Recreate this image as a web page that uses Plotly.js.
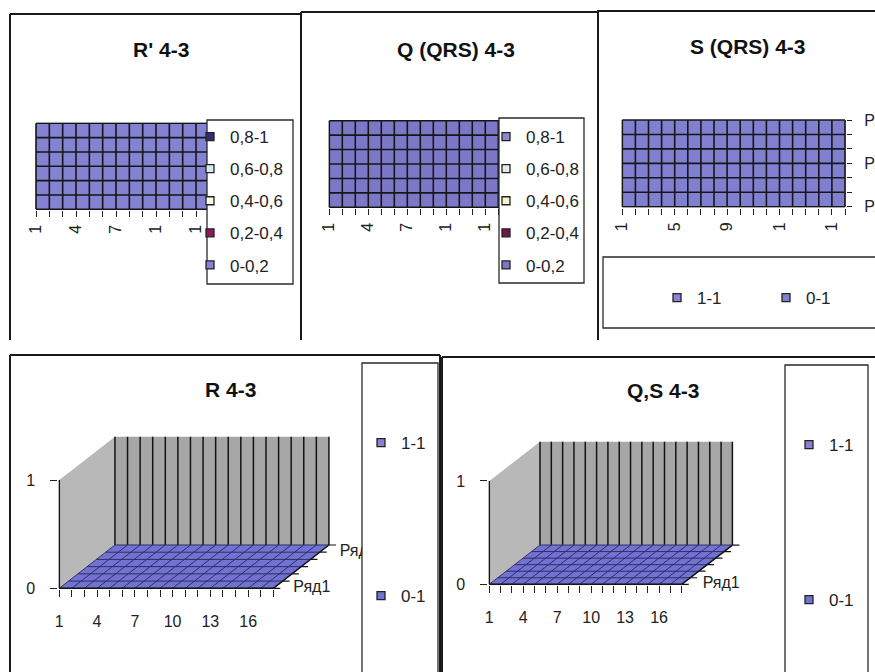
<!DOCTYPE html>
<html>
<head>
<meta charset="utf-8">
<script src="https://cdn.plot.ly/plotly-3.0.1.min.js"></script>
<style>html,body{margin:0;padding:0;background:#fff;overflow:hidden;width:875px;height:672px;}#chart{width:875px;height:672px;overflow:hidden;}</style>
</head>
<body>
<div id="chart"></div>
<script>
// ---------------- DATA ----------------
const categories = [1,2,3,4,5,6,7,8,9,10,11,12,13,14,15,16,17,18];
const seriesNames = ["Ряд1","Ряд2","Ряд3","Ряд4","Ряд5","Ряд6","Ряд7"];
const seriesPos = [1,2,3,4,5,6,7];

// surface values: rows = series (Ряд1..Ряд7), columns = categories 1..18
const rPrime43 = [
  [0,0,0,0,0,0,0,0,0,0,0,0,0,0,0,0,0,0],
  [0,0,0,0,0,0,0,0,0,0,0,0,0,0,0,0,0,0],
  [0,0,0,0,0,0,0,0,0,0,0,0,0,0,0,0,0,0],
  [0,0,0,0,0,0,0,0,0,0,0,0,0,0,0,0,0,0],
  [0,0,0,0,0,0,0,0,0,0,0,0,0,0,0,0,0,0],
  [0,0,0,0,0,0,0,0,0,0,0,0,0,0,0,0,0,0],
  [0,0,0,0,0,0,0,0,0,0,0,0,0,0,0,0,0,0]
];
const qQRS43 = [
  [0,0,0,0,0,0,0,0,0,0,0,0,0,0,0,0,0,0],
  [0,0,0,0,0,0,0,0,0,0,0,0,0,0,0,0,0,0],
  [0,0,0,0,0,0,0,0,0,0,0,0,0,0,0,0,0,0],
  [0,0,0,0,0,0,0,0,0,0,0,0,0,0,0,0,0,0],
  [0,0,0,0,0,0,0,0,0,0,0,0,0,0,0,0,0,0],
  [0,0,0,0,0,0,0,0,0,0,0,0,0,0,0,0,0,0],
  [0,0,0,0,0,0,0,0,0,0,0,0,0,0,0,0,0,0]
];
const sQRS43 = [
  [0,0,0,0,0,0,0,0,0,0,0,0,0,0,0,0,0,0],
  [0,0,0,0,0,0,0,0,0,0,0,0,0,0,0,0,0,0],
  [0,0,0,0,0,0,0,0,0,0,0,0,0,0,0,0,0,0],
  [0,0,0,0,0,0,0,0,0,0,0,0,0,0,0,0,0,0],
  [0,0,0,0,0,0,0,0,0,0,0,0,0,0,0,0,0,0],
  [0,0,0,0,0,0,0,0,0,0,0,0,0,0,0,0,0,0],
  [0,0,0,0,0,0,0,0,0,0,0,0,0,0,0,0,0,0]
];
const r43 = [
  [0,0,0,0,0,0,0,0,0,0,0,0,0,0,0,0,0,0],
  [0,0,0,0,0,0,0,0,0,0,0,0,0,0,0,0,0,0],
  [0,0,0,0,0,0,0,0,0,0,0,0,0,0,0,0,0,0],
  [0,0,0,0,0,0,0,0,0,0,0,0,0,0,0,0,0,0],
  [0,0,0,0,0,0,0,0,0,0,0,0,0,0,0,0,0,0],
  [0,0,0,0,0,0,0,0,0,0,0,0,0,0,0,0,0,0],
  [0,0,0,0,0,0,0,0,0,0,0,0,0,0,0,0,0,0]
];
const qs43 = [
  [0,0,0,0,0,0,0,0,0,0,0,0,0,0,0,0,0,0],
  [0,0,0,0,0,0,0,0,0,0,0,0,0,0,0,0,0,0],
  [0,0,0,0,0,0,0,0,0,0,0,0,0,0,0,0,0,0],
  [0,0,0,0,0,0,0,0,0,0,0,0,0,0,0,0,0,0],
  [0,0,0,0,0,0,0,0,0,0,0,0,0,0,0,0,0,0],
  [0,0,0,0,0,0,0,0,0,0,0,0,0,0,0,0,0,0],
  [0,0,0,0,0,0,0,0,0,0,0,0,0,0,0,0,0,0]
];

// value bands (legend entries)
const bands5Labels = ["0-0,2","0,2-0,4","0,4-0,6","0,6-0,8","0,8-1"];
const bands5Lows = [0,0.2,0.4,0.6,0.8];
const bands2Labels = ["0-1","1-1"];
const bands2Lows = [0,1];
const zAxisTicks = [0,1];

// tick labels as they appear in the picture
const topTickTextStep3 = ["1","","","4","","","7","","","1","","","1","","","1","",""];
const topTickTextStep4 = ["1","","","","5","","","","9","","","","1","","","","1",""];
const bottomTickText = ["1","","","4","","","7","","","10","","","13","","","16","",""];
const hiddenSeriesText = ["","","","","","",""];
const sSeriesText = ["Ряд1","","","Ряд4","","","Ряд7"];
const rSeriesText = ["Ряд1","","","","","Ряд6",""];
const qsSeriesText = ["Ряд1","","","","","",""];

const titles = ["R' 4-3","Q (QRS) 4-3","S (QRS) 4-3","R 4-3","Q,S 4-3"];

// ---------------- STYLE ----------------
const FONT = "Liberation Sans, Arial, sans-serif";
const rPrimeColors = ["#8482d2","#8c1c5c","#fbfbe4","#d4ecec","#3a2a74"];
const qColors = ["#7c78c8","#6e1a46","#f4f4d0","#e0eee8","#8e88cf"];
const sColors = ["#8180d0","#8884d2"];
const rColors = ["#7272d2","#8a80cf"];
const qsColors = ["#7272d2","#8a80d0"];
const backWall = "#a6a6a6", sideWall = "#b8b8b8";

const W = 875, H = 672;
const fx = p => p / W;
const fy = p => 1 - p / H;

const traces = [];
const layout = {
  width: W, height: H, margin: {l:0,r:0,t:0,b:0},
  paper_bgcolor: "#ffffff", plot_bgcolor: "rgba(0,0,0,0)",
  font: {family: FONT, color: "#1e1e1e"},
  showlegend: true, hovermode: false,
  shapes: [], annotations: []
};

function bandOf(v, lows) { let k = 0; lows.forEach((l, i) => { if (v >= l) k = i; }); return k; }
function cellBands(vals, lows) {
  const out = [];
  for (let j = 0; j < vals.length - 1; j++) {
    const row = [];
    for (let i = 0; i < vals[j].length - 1; i++) {
      const m = (vals[j][i] + vals[j][i+1] + vals[j+1][i] + vals[j+1][i+1]) / 4;
      row.push(bandOf(m, lows));
    }
    out.push(row);
  }
  return out;
}
function discreteScale(colors) {
  const n = colors.length, s = [];
  colors.forEach((c, k) => { s.push([k / n, c]); s.push([(k + 1) / n, c]); });
  return s;
}
const axKey = (letter, n) => letter + "axis" + (n === 1 ? "" : n);
const axRef = (letter, n) => letter + (n === 1 ? "" : n);

function legendCfg(xpx, ypx, gap, size) {
  return {x: fx(xpx), y: fy(ypx), xanchor: "left", yanchor: "top",
    bgcolor: "rgba(0,0,0,0)", borderwidth: 0, orientation: "v",
    font: {family: FONT, size: size, color: "#222"}, tracegroupgap: gap, itemwidth: 30,
    indentation: -15};
}
function addLegendEntries(o, xa, ya) {
  o.legendOrder.forEach((k, idx) => {
    const lid = o.legendIds[idx];
    traces.push({type: "scatter", mode: "markers", x: [null], y: [null], name: o.labels[k],
      marker: {symbol: "square", size: 8, color: o.colors[k], line: {color: "#222", width: 1.3}},
      legend: lid, legendgroup: lid + "_" + k, xaxis: xa, yaxis: ya});
  });
  Object.keys(o.legends).forEach(id => { layout[id] = o.legends[id]; });
}

// ---------------- TOP (contour / top view) CHARTS ----------------
function addTopChart(o) {
  const xa = axRef("x", o.n), ya = axRef("y", o.n);
  const nC = categories.length, nS = seriesPos.length;
  traces.push({type: "heatmap", x: categories, y: seriesPos, z: cellBands(o.values, o.lows),
    colorscale: discreteScale(o.colors), zmin: -0.5, zmax: o.colors.length - 0.5,
    showscale: false, xaxis: xa, yaxis: ya, hoverinfo: "skip"});
  const gx = [], gy = [];
  categories.forEach(c => { gx.push(c, c, null); gy.push(seriesPos[0], seriesPos[nS-1], null); });
  seriesPos.forEach(s => { gx.push(categories[0], categories[nC-1], null); gy.push(s, s, null); });
  traces.push({type: "scatter", mode: "lines", x: gx, y: gy, line: {color: "#161616", width: 1.6},
    xaxis: xa, yaxis: ya, showlegend: false, hoverinfo: "skip"});
  addLegendEntries(o, xa, ya);
  const pad = 0.08;
  const ppc = (o.px18 - o.px1) / (nC - 1);
  const pps = (o.pyBottom - o.pyTop) / (nS - 1);
  layout[axKey("x", o.n)] = {
    domain: [fx(o.px1 - pad * ppc), fx(o.px18 + pad * ppc)],
    range: [categories[0] - pad, categories[nC-1] + pad], anchor: ya,
    tickmode: "array", tickvals: categories, ticktext: o.tickText, tickangle: -90,
    ticks: "outside", ticklen: 6, tickwidth: 1, tickcolor: "#222",
    tickfont: {size: 16, family: FONT, color: "#222"}, ticklabelstandoff: 1,
    showgrid: false, zeroline: false, showline: false, fixedrange: true
  };
  layout[axKey("y", o.n)] = {
    domain: [fy(o.pyBottom + pad * pps), fy(o.pyTop - pad * pps)],
    range: [seriesPos[0] - pad, seriesPos[nS-1] + pad], anchor: xa, side: "right",
    tickmode: "array", tickvals: seriesPos, ticktext: o.seriesText,
    ticks: "outside", ticklen: 5, tickwidth: 1, tickcolor: "#222",
    tickfont: {size: 16, family: FONT, color: "#222"}, ticklabelstandoff: 9,
    showgrid: false, zeroline: false, showline: false, fixedrange: true
  };
}

// ---------------- BOTTOM (3-D surface, oblique) CHARTS ----------------
function addBottomChart(o) {
  const xa = axRef("x", o.n), ya = axRef("y", o.n);
  const nC = categories.length, nS = seriesPos.length;
  const z0 = zAxisTicks[0], z1 = zAxisTicks[zAxisTicks.length - 1];
  const depth = j => (seriesPos[j] - seriesPos[0]) / (seriesPos[nS-1] - seriesPos[0]);
  const P = (i, j, v) => [categories[i] + depth(j) * o.dx, v + depth(j) * o.dy];
  const poly = (pts, fill) => ({type: "scatter", mode: "lines", fill: "toself", fillcolor: fill,
    x: pts.map(p => p[0]), y: pts.map(p => p[1]), line: {width: 0},
    xaxis: xa, yaxis: ya, showlegend: false, hoverinfo: "skip"});
  const lines = (segs, color, width) => {
    const x = [], y = [];
    segs.forEach(s => { s.forEach(p => { x.push(p[0]); y.push(p[1]); }); x.push(null); y.push(null); });
    return {type: "scatter", mode: "lines", x, y, line: {color, width},
      xaxis: xa, yaxis: ya, showlegend: false, hoverinfo: "skip"};
  };
  // walls
  traces.push(poly([P(0,nS-1,z0), P(nC-1,nS-1,z0), P(nC-1,nS-1,z1), P(0,nS-1,z1), P(0,nS-1,z0)], backWall));
  traces.push(poly([P(0,0,z0), P(0,nS-1,z0), P(0,nS-1,z1), P(0,0,z1), P(0,0,z0)], sideWall));
  // back wall category gridlines
  traces.push(lines(categories.map((c, i) => [P(i,nS-1,z0), P(i,nS-1,z1)]), "#141414", 1.5));
  // surface cells grouped by band
  const bands = cellBands(o.values, o.lows);
  o.colors.forEach((col, k) => {
    const x = [], y = [];
    for (let j = 0; j < nS - 1; j++) for (let i = 0; i < nC - 1; i++) {
      if (bands[j][i] !== k) continue;
      const v = o.values;
      [P(i,j,v[j][i]), P(i+1,j,v[j][i+1]), P(i+1,j+1,v[j+1][i+1]), P(i,j+1,v[j+1][i]), P(i,j,v[j][i])]
        .forEach(p => { x.push(p[0]); y.push(p[1]); });
      x.push(null); y.push(null);
    }
    if (x.length) traces.push({type: "scatter", mode: "lines", fill: "toself", fillcolor: col, x, y,
      line: {width: 0}, xaxis: xa, yaxis: ya, showlegend: false, hoverinfo: "skip"});
  });
  // surface mesh
  const mesh = [];
  seriesPos.forEach((s, j) => mesh.push(categories.map((c, i) => P(i, j, o.values[j][i]))));
  categories.forEach((c, i) => mesh.push(seriesPos.map((s, j) => P(i, j, o.values[j][i]))));
  traces.push(lines(mesh, "#2e2e66", 1));
  // front edge, right (series) edge, vertical axis edge
  traces.push(lines([categories.map((c, i) => P(i, 0, z0)), seriesPos.map((s, j) => P(nC-1, j, z0)),
    [P(0,0,z0), P(0,0,z1)]], "#141414", 1.5));
  // series axis ticks + labels
  const tl = 7 / o.ppc;
  traces.push(lines(seriesPos.map((s, j) => { const p = P(nC-1, j, z0); return [p, [p[0] + tl, p[1]]]; }), "#141414", 1.2));
  const off = o.labelOffsetPx / o.ppc;
  traces.push({type: "scatter", mode: "text", cliponaxis: false,
    x: seriesPos.map((s, j) => P(nC-1, j, z0)[0] + off), y: seriesPos.map((s, j) => P(nC-1, j, z0)[1]),
    text: o.seriesText, textposition: "middle right", textfont: {size: 16, family: FONT, color: "#222"},
    xaxis: xa, yaxis: ya, showlegend: false, hoverinfo: "skip"});
  addLegendEntries(o, xa, ya);
  const padx = 1 / o.ppc, padz = 1 / o.ppz;
  const labelRoom = (o.labelOffsetPx + 6) / o.ppc;
  const xLo = categories[0] - padx, xHi = categories[nC-1] + o.dx + labelRoom;
  const yLo = z0 - padz, yHi = z1 + o.dy + padz;
  layout[axKey("x", o.n)] = {
    domain: [fx(o.px1 - padx * o.ppc), fx(o.px1 + (xHi - categories[0]) * o.ppc)],
    range: [xLo, xHi], anchor: ya,
    tickmode: "array", tickvals: categories, ticktext: bottomTickText,
    ticks: "outside", ticklen: 7, tickwidth: 1, tickcolor: "#222",
    tickfont: {size: 16, family: FONT, color: "#222"}, ticklabelstandoff: 10,
    showgrid: false, zeroline: false, showline: false, fixedrange: true
  };
  layout[axKey("y", o.n)] = {
    domain: [fy(o.pyZ0 + padz * o.ppz), fy(o.pyZ0 - (yHi - z0) * o.ppz)],
    range: [yLo, yHi], anchor: xa,
    tickmode: "array", tickvals: zAxisTicks, ticktext: zAxisTicks.map(String),
    ticks: "outside", ticklen: 7, tickwidth: 1, tickcolor: "#222",
    tickfont: {size: 16, family: FONT, color: "#222"}, ticklabelstandoff: 12,
    showgrid: false, zeroline: false, showline: false, fixedrange: true
  };
}

addTopChart({n: 1, values: rPrime43, lows: bands5Lows, colors: rPrimeColors, labels: bands5Labels,
  legendOrder: [4,3,2,1,0], legendIds: ["legend","legend","legend","legend","legend"],
  legends: {legend: legendCfg(205, 119, 7, 17)},
  tickText: topTickTextStep3, seriesText: hiddenSeriesText,
  px1: 36, px18: 262.7, pyTop: 123.3, pyBottom: 209.3});
addTopChart({n: 2, values: qQRS43, lows: bands5Lows, colors: qColors, labels: bands5Labels,
  legendOrder: [4,3,2,1,0], legendIds: ["legend2","legend2","legend2","legend2","legend2"],
  legends: {legend2: legendCfg(501, 119, 7, 17)},
  tickText: topTickTextStep3, seriesText: hiddenSeriesText,
  px1: 329.3, px18: 550.3, pyTop: 120.7, pyBottom: 207.3});
addTopChart({n: 3, values: sQRS43, lows: bands2Lows, colors: sColors, labels: bands2Labels,
  legendOrder: [1,0], legendIds: ["legend3","legend6"],
  legends: {legend3: legendCfg(672, 280, 0, 17), legend6: legendCfg(781, 280, 0, 17)},
  tickText: topTickTextStep4, seriesText: sSeriesText,
  px1: 622.3, px18: 845, pyTop: 120, pyBottom: 206.7});
addBottomChart({n: 4, values: r43, lows: bands2Lows, colors: rColors, labels: bands2Labels,
  legendOrder: [1,0], legendIds: ["legend4","legend4"],
  legends: {legend4: legendCfg(376, 425, 128, 17)}, seriesText: rSeriesText,
  px1: 59.3, ppc: (273.3 - 59.3) / 17, pyZ0: 588.3, ppz: 108.3, dx: 4.42, dy: 0.4, labelOffsetPx: 20});
addBottomChart({n: 5, values: qs43, lows: bands2Lows, colors: qsColors, labels: bands2Labels,
  legendOrder: [1,0], legendIds: ["legend5","legend5"],
  legends: {legend5: legendCfg(804, 427, 130, 17)}, seriesText: qsSeriesText,
  px1: 489.3, ppc: (681.7 - 489.3) / 17, pyZ0: 584.3, ppz: 103.3, dx: 4.48, dy: 0.38, labelOffsetPx: 21});

// ---------------- FRAMES, LEGEND BOXES, TITLES ----------------
const frame = (x0, y0, x1, y1) => ({type: "line", xref: "paper", yref: "paper",
  x0: fx(x0), y0: fy(y0), x1: fx(x1), y1: fy(y1), line: {color: "#1a1a1a", width: 2}, layer: "above"});
layout.shapes.push(
  frame(10, 14, 301, 14), frame(10, 14, 10, 340), frame(301, 12, 301, 340),
  frame(301, 12, 598, 12), frame(598, 11, 598, 340), frame(597, 11, 875, 11),
  frame(10, 355, 440, 355), frame(10, 355, 10, 672), frame(440, 355, 440, 672),
  frame(442, 357, 875, 357), frame(442, 357, 442, 672)
);
const box = (x0, y0, x1, y1) => ({type: "rect", xref: "paper", yref: "paper",
  x0: fx(x0), y0: fy(y0), x1: fx(x1), y1: fy(y1), fillcolor: "#ffffff",
  line: {color: "#2a2a2a", width: 1.3}, layer: "above"});
layout.shapes.push(box(207, 120, 293, 284), box(499, 118, 584, 283), box(603, 257, 880, 328),
  box(362, 363, 438, 680), box(785, 365, 868, 680));

const titlePos = [[160.8, 49.3], [455.8, 50], [748.3, 46.7], [230.7, 389], [663, 390]];
titles.forEach((t, i) => layout.annotations.push({text: t, xref: "paper", yref: "paper",
  x: fx(titlePos[i][0]), y: fy(titlePos[i][1]), xanchor: "center", yanchor: "middle",
  showarrow: false, font: {family: FONT, size: 21, color: "#111", weight: "bold"}}));

Plotly.newPlot("chart", traces, layout, {staticPlot: true, displayModeBar: false});
</script>
</body>
</html>
